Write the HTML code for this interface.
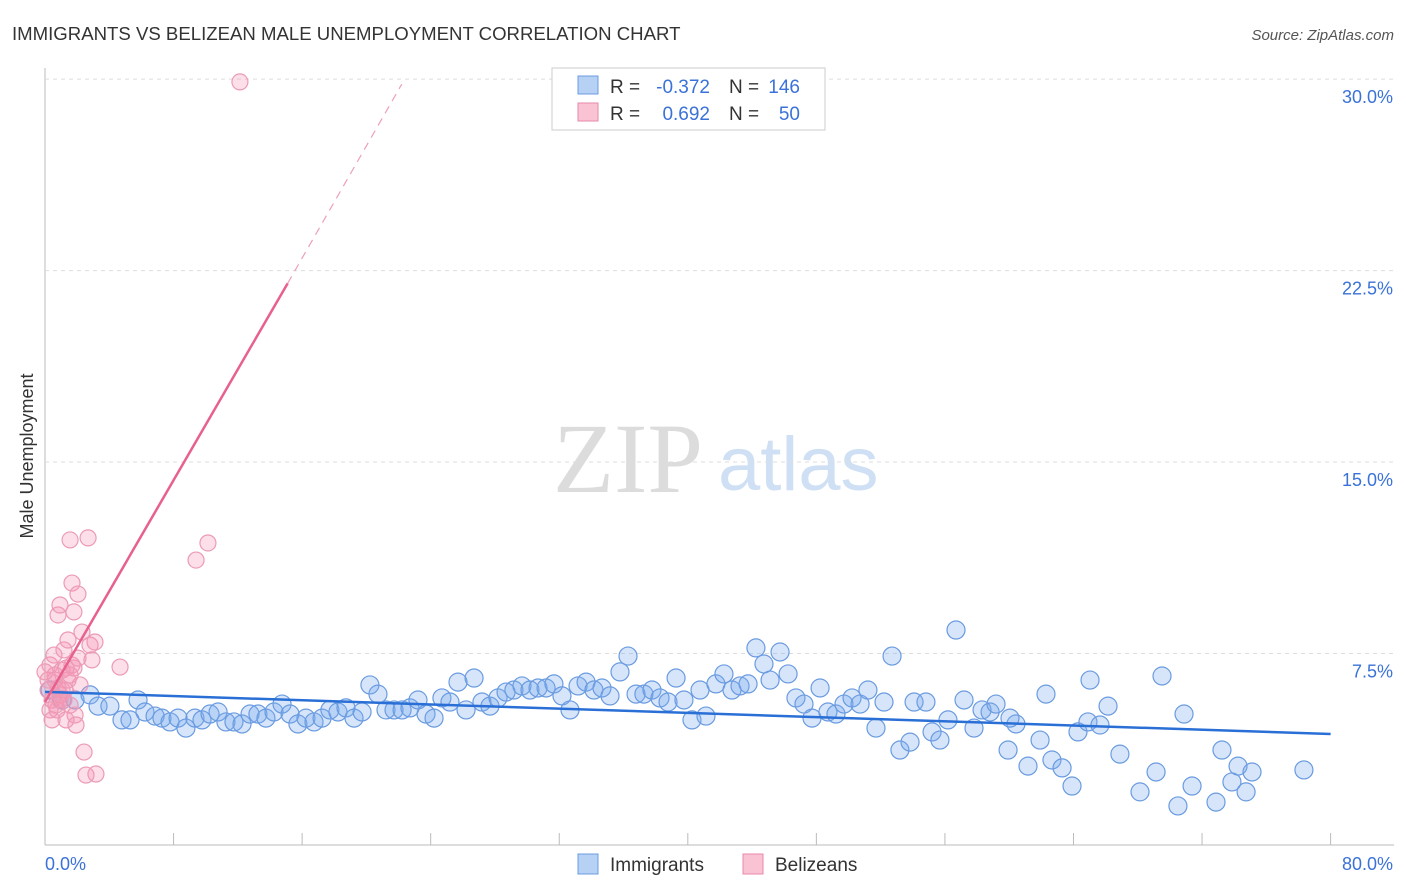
<!DOCTYPE html>
<html><head><meta charset="utf-8"><style>
body{margin:0;background:#fff;font-family:"Liberation Sans",sans-serif;}
svg{display:block}
</style></head><body>
<svg id="c" width="1406" height="892">
<text x="12" y="40" font-size="18.6" fill="#333">IMMIGRANTS VS BELIZEAN MALE UNEMPLOYMENT CORRELATION CHART</text>
<text x="1394" y="40" font-size="15" fill="#555" text-anchor="end" font-style="italic">Source: ZipAtlas.com</text>
<text x="33" y="456" font-size="18" fill="#333" text-anchor="middle" transform="rotate(-90 33 456)">Male Unemployment</text>
<text x="553" y="492" font-size="100" fill="#dcdcdc" font-family="Liberation Serif,serif">ZIP</text>
<text x="718" y="490" font-size="76" fill="#cfe0f5">atlas</text>
<g id="grid"></g><g id="pts"></g><g id="lines"></g>
<g>
<rect x="552" y="68" width="273" height="62" fill="#fff" stroke="#ccc"/>
<rect x="578" y="76" width="20" height="18" fill="#b7d1f5" stroke="#6a9be0"/>
<rect x="578" y="103" width="20" height="18" fill="#f9c3d3" stroke="#e88aaa"/>
<text x="610" y="93" font-size="19" fill="#333">R =</text>
<text x="710" y="93" font-size="19" fill="#3a72d8" text-anchor="end">-0.372</text>
<text x="729" y="93" font-size="19" fill="#333">N =</text>
<text x="800" y="93" font-size="19" fill="#3a72d8" text-anchor="end">146</text>
<text x="610" y="120" font-size="19" fill="#333">R =</text>
<text x="710" y="120" font-size="19" fill="#3a72d8" text-anchor="end">0.692</text>
<text x="729" y="120" font-size="19" fill="#333">N =</text>
<text x="800" y="120" font-size="19" fill="#3a72d8" text-anchor="end">50</text>
</g>
<g>
<rect x="578" y="854" width="20" height="20" fill="#b7d1f5" stroke="#6a9be0"/>
<text x="610" y="871" font-size="19" fill="#333">Immigrants</text>
<rect x="743" y="854" width="20" height="20" fill="#f9c3d3" stroke="#e88aaa"/>
<text x="775" y="871" font-size="19" fill="#333">Belizeans</text>
</g>
</svg>
<script>
const yTicks=[7.5,15,22.5,30];
const yTickLabels=["7.5%","15.0%","22.5%","30.0%"];
const xEnds=["0.0%","80.0%"];
const bluePx=[[50,690],[62,700],[75,700],[90,695],[98,706],[110,706],[122,720],[130,720],[138,700],[145,712],[155,716],[162,718],[170,722],[178,718],[186,728],[195,718],[202,720],[210,714],[218,712],[226,722],[234,722],[242,724],[250,714],[258,714],[266,718],[274,712],[282,704],[290,714],[298,724],[306,718],[314,722],[322,718],[330,710],[338,712],[346,708],[354,718],[362,712],[370,685],[378,694],[386,710],[394,710],[402,710],[410,708],[418,700],[426,714],[434,718],[442,698],[450,702],[458,682],[466,710],[474,678],[482,702],[490,706],[498,698],[506,692],[514,690],[522,686],[530,690],[538,688],[546,688],[554,684],[562,696],[570,710],[578,686],[586,682],[594,690],[602,688],[610,696],[620,672],[628,656],[636,694],[644,694],[652,690],[660,698],[668,702],[676,678],[684,700],[692,720],[700,690],[706,716],[716,684],[724,674],[732,690],[740,686],[748,684],[756,648],[764,664],[770,680],[780,652],[788,674],[796,698],[804,704],[812,718],[820,688],[828,712],[836,714],[844,704],[852,698],[860,704],[868,690],[876,728],[884,702],[892,656],[900,750],[910,742],[914,702],[926,702],[932,732],[940,740],[948,720],[956,630],[964,700],[974,728],[982,710],[990,712],[996,704],[1008,750],[1016,724],[1028,766],[1040,740],[1046,694],[1052,760],[1062,768],[1072,786],[1078,732],[1088,722],[1090,680],[1108,706],[1120,754],[1140,792],[1156,772],[1162,676],[1178,806],[1184,714],[1192,786],[1216,802],[1222,750],[1232,782],[1238,766],[1246,792],[1252,772],[1304,770],[1100,725],[1010,718]];
const pinkPx=[[240,82],[50,665],[52,700],[55,680],[57,710],[60,695],[62,670],[65,690],[68,680],[70,705],[72,665],[75,715],[48,690],[50,710],[54,655],[58,615],[60,605],[64,650],[66,720],[68,640],[70,540],[72,583],[74,612],[76,725],[78,594],[80,685],[82,632],[84,752],[86,775],[88,538],[90,645],[92,660],[95,642],[96,774],[120,667],[196,560],[208,543],[48,680],[52,720],[56,705],[62,690],[64,700],[66,668],[70,675],[55,675],[58,688],[60,700],[74,668],[78,658],[45,672]];
const blueX=bluePx.map(p=>+((p[0]-45)/16.07).toFixed(2)), blueY=bluePx.map(p=>+((845-p[1])/25.53).toFixed(2));
const pinkX=pinkPx.map(p=>+((p[0]-45)/16.07).toFixed(2)), pinkY=pinkPx.map(p=>+((845-p[1])/25.53).toFixed(2));
const blueTrend=[[0,6.0],[80,4.35]];
const pinkTrend=[[0,5.6],[15.1,22.0]];
const pinkTrendExt=[[15.1,22.0],[22.2,29.8]];
const X=v=>45+v*16.07, Y=v=>845-v*25.53;
const NS="http://www.w3.org/2000/svg";
function mk(t,a,parent){const e=document.createElementNS(NS,t);for(const k in a)e.setAttribute(k,a[k]);document.getElementById(parent).appendChild(e);return e;}
let l=mk('line',{x1:45,y1:68,x2:45,y2:845,stroke:'#bbb'},'grid');


l=mk('line',{x1:45,y1:845,x2:1394,y2:845,stroke:'#bbb'},'grid');


for(let i=0;i<=10;i++){const t=mk('line',{x1:X(i*8),y1:845,x2:X(i*8),y2:833,stroke:'#bbb'},'grid');

}
yTicks.forEach((v,i)=>{const g=mk('line',{x1:45,y1:Y(v),x2:1394,y2:Y(v),stroke:'#ddd','stroke-dasharray':'4 4'},'grid');


const t=mk('text',{x:1393,y:Y(v)+24,'font-size':18,fill:'#3a72d8','text-anchor':'end'},'grid');t.textContent=yTickLabels[i];

});
xEnds.forEach((s,i)=>{const t=mk('text',{x:i?1393:45,y:870,'font-size':18,fill:'#3a72d8','text-anchor':i?'end':'start'},'grid');t.textContent=s;

});
blueX.forEach((x,i)=>{const c=mk('circle',{cx:X(x),cy:Y(blueY[i]),r:9,fill:'rgba(120,168,238,0.3)',stroke:'#6a9be0','stroke-width':1.2},'pts');

});
pinkX.forEach((x,i)=>{const c=mk('circle',{cx:X(x),cy:Y(pinkY[i]),r:8,fill:'rgba(245,150,180,0.3)',stroke:'#ec9ab5','stroke-width':1.2},'pts');

});
l=mk('line',{x1:X(blueTrend[0][0]),y1:Y(blueTrend[0][1]),x2:X(blueTrend[1][0]),y2:Y(blueTrend[1][1]),stroke:'#2a6fd6','stroke-width':2.5},'lines');


l=mk('line',{x1:X(pinkTrend[0][0]),y1:Y(pinkTrend[0][1]),x2:X(pinkTrend[1][0]),y2:Y(pinkTrend[1][1]),stroke:'#e8608e','stroke-width':2.5},'lines');


l=mk('line',{x1:X(pinkTrendExt[0][0]),y1:Y(pinkTrendExt[0][1]),x2:X(pinkTrendExt[1][0]),y2:Y(pinkTrendExt[1][1]),stroke:'#eca0b8','stroke-width':1.2,'stroke-dasharray':'8 6'},'lines');


</script>
</body></html>
